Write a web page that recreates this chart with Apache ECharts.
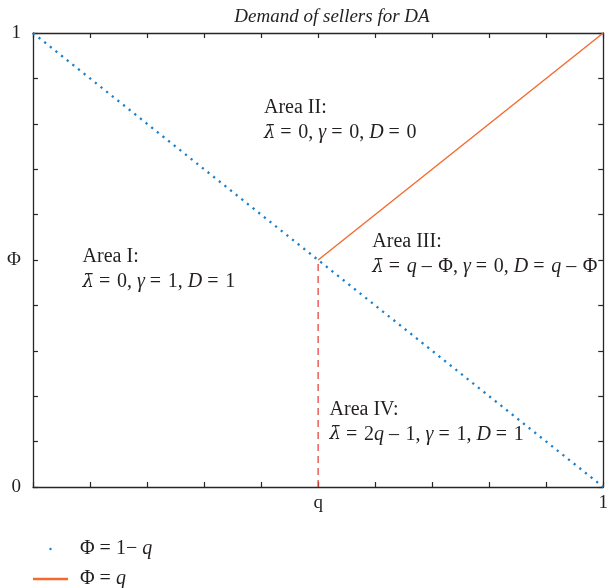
<!DOCTYPE html>
<html>
<head>
<meta charset="utf-8">
<script src="https://cdn.jsdelivr.net/npm/echarts@6/dist/echarts.min.js"></script>
<style>html,body{margin:0;padding:0;background:#fff}#c{width:611px;height:588px}</style>
</head>
<body>
<div id="c"></div>
<script>
// ---- data ----
const titleText = 'Demand of sellers for DA';
const seriesNames = ['Φ = 1− q', 'Φ = q', 'boundary'];
const demandLine = [[0, 1], [1, 0]];          // Φ = 1 − q
const supplyLine = [[0.5, 0.5], [1, 1]];      // Φ = q (for q ≥ Φ)
const boundaryLine = [[0.5, 0], [0.5, 0.5]];  // vertical at q
const xTickLabels = {0.5: 'q', 1: '1'};
const yTickLabels = {0: '0', 0.5: 'Φ', 1: '1'};
const annotationPos = [[0.405, 0.807], [0.087, 0.479], [0.595, 0.512], [0.52, 0.143]];
const S = '\u2004';
const annotationText = [
  `{r|Area II:}\n{l|λ̄}{r| =${S}0, }{i|γ}{r| =${S}0, }{i|D}{r| =${S}0}`,
  `{r|Area I:}\n{l|λ̄}{r| =${S}0, }{i|γ}{r| =${S}1, }{i|D}{r| =${S}1}`,
  `{r|Area III:}\n{l|λ̄}{r| =${S}}{i|q}{r| –${S}Φ, }{i|γ}{r| =${S}0, }{i|D}{r| =${S}}{i|q}{r| –${S}Φ}`,
  `{r|Area IV:}\n{l|λ̄}{r| =${S}2}{i|q}{r| –${S}1, }{i|γ}{r| =${S}1, }{i|D}{r| =${S}1}`
];

const FONT = 'Liberation Serif';
const AX = '#262626';
const TXT = '#231f20';
const near = (v, t) => Math.abs(v - t) < 1e-6;
const lookup = (map) => (v) => {
  for (const k in map) if (near(v, +k)) return map[k];
  return '';
};

const axisCommon = {
  type: 'value', min: 0, max: 1, interval: 0.1,
  axisLine: {show: true, onZero: false, lineStyle: {color: AX, width: 1.3}},
  axisTick: {show: true, inside: true, length: 5, lineStyle: {color: AX, width: 1.2}},
  splitLine: {show: false}
};
const labelStyle = {fontFamily: FONT, fontSize: 19, color: TXT};
const richStyle = {
  r: {fontFamily: FONT, fontSize: 20, color: TXT, lineHeight: 25},
  i: {fontFamily: FONT, fontSize: 20, fontStyle: 'italic', color: TXT, lineHeight: 25},
  l: {fontFamily: 'DejaVu Serif', fontSize: 18, fontStyle: 'italic', color: TXT, lineHeight: 25}
};

const chart = echarts.init(document.getElementById('c'), null, {renderer: 'canvas'});
chart.setOption({
  animation: false,
  backgroundColor: '#fff',
  title: {
    text: titleText, left: 327, top: 2, textAlign: 'center',
    textStyle: {fontFamily: FONT, fontStyle: 'italic', fontWeight: 'normal', fontSize: 19, color: TXT}
  },
  grid: {left: 33, right: 2, top: 33, bottom: 101, containLabel: false},
  xAxis: [
    Object.assign({}, axisCommon, {position: 'bottom',
      axisLabel: Object.assign({show: true, margin: 7, formatter: lookup(xTickLabels), showMinLabel: true, showMaxLabel: true}, labelStyle)}),
    Object.assign({}, axisCommon, {position: 'top', axisLabel: {show: false}})
  ],
  yAxis: [
    Object.assign({}, axisCommon, {position: 'left',
      axisLabel: Object.assign({show: true, margin: 12, formatter: lookup(yTickLabels), showMinLabel: true, showMaxLabel: true}, labelStyle)}),
    Object.assign({}, axisCommon, {position: 'right', axisLabel: {show: false}})
  ],
  legend: {
    orient: 'vertical', left: 33, top: 539, height: 80, padding: 0, itemGap: 10,
    itemWidth: 35, itemHeight: 2.4,
    data: [{name: seriesNames[0], icon: 'circle'}, {name: seriesNames[1], icon: 'rect'}],
    textStyle: {fontFamily: FONT, fontSize: 20, color: TXT, padding: [0, 0, 0, 7],
      rich: {r: {fontFamily: FONT, fontSize: 20, color: TXT}, i: {fontFamily: FONT, fontSize: 20, fontStyle: 'italic', color: TXT}}},
    formatter: (n) => n === seriesNames[0] ? '{r|Φ = 1− }{i|q}' : '{r|Φ = }{i|q}'
  },
  series: [
    {
      name: seriesNames[0], type: 'line', data: demandLine, showSymbol: false, symbol: 'none',
      color: '#1a80cc',
      lineStyle: {color: '#1a80cc', width: 2.3, type: [2.2, 5], cap: 'butt'}
    },
    {
      name: seriesNames[1], type: 'line', data: supplyLine, showSymbol: false, symbol: 'none',
      color: '#f26a2e',
      lineStyle: {color: '#f26a2e', width: 1.4}
    },
    {
      name: seriesNames[2], type: 'line', data: boundaryLine, showSymbol: false, symbol: 'none',
      color: '#e5453c',
      lineStyle: {color: '#e5453c', width: 1.3, type: [7, 5]}
    },
    {
      name: 'annotations', type: 'scatter', symbolSize: 0.01, silent: true,
      itemStyle: {opacity: 1},
      data: annotationPos.map((p, i) => ({value: p, label: {formatter: annotationText[i]}})),
      label: {show: true, position: 'right', distance: 0, align: 'left', verticalAlign: 'middle', color: TXT, opacity: 1, rich: richStyle}
    }
  ]
});
</script>
</body>
</html>
